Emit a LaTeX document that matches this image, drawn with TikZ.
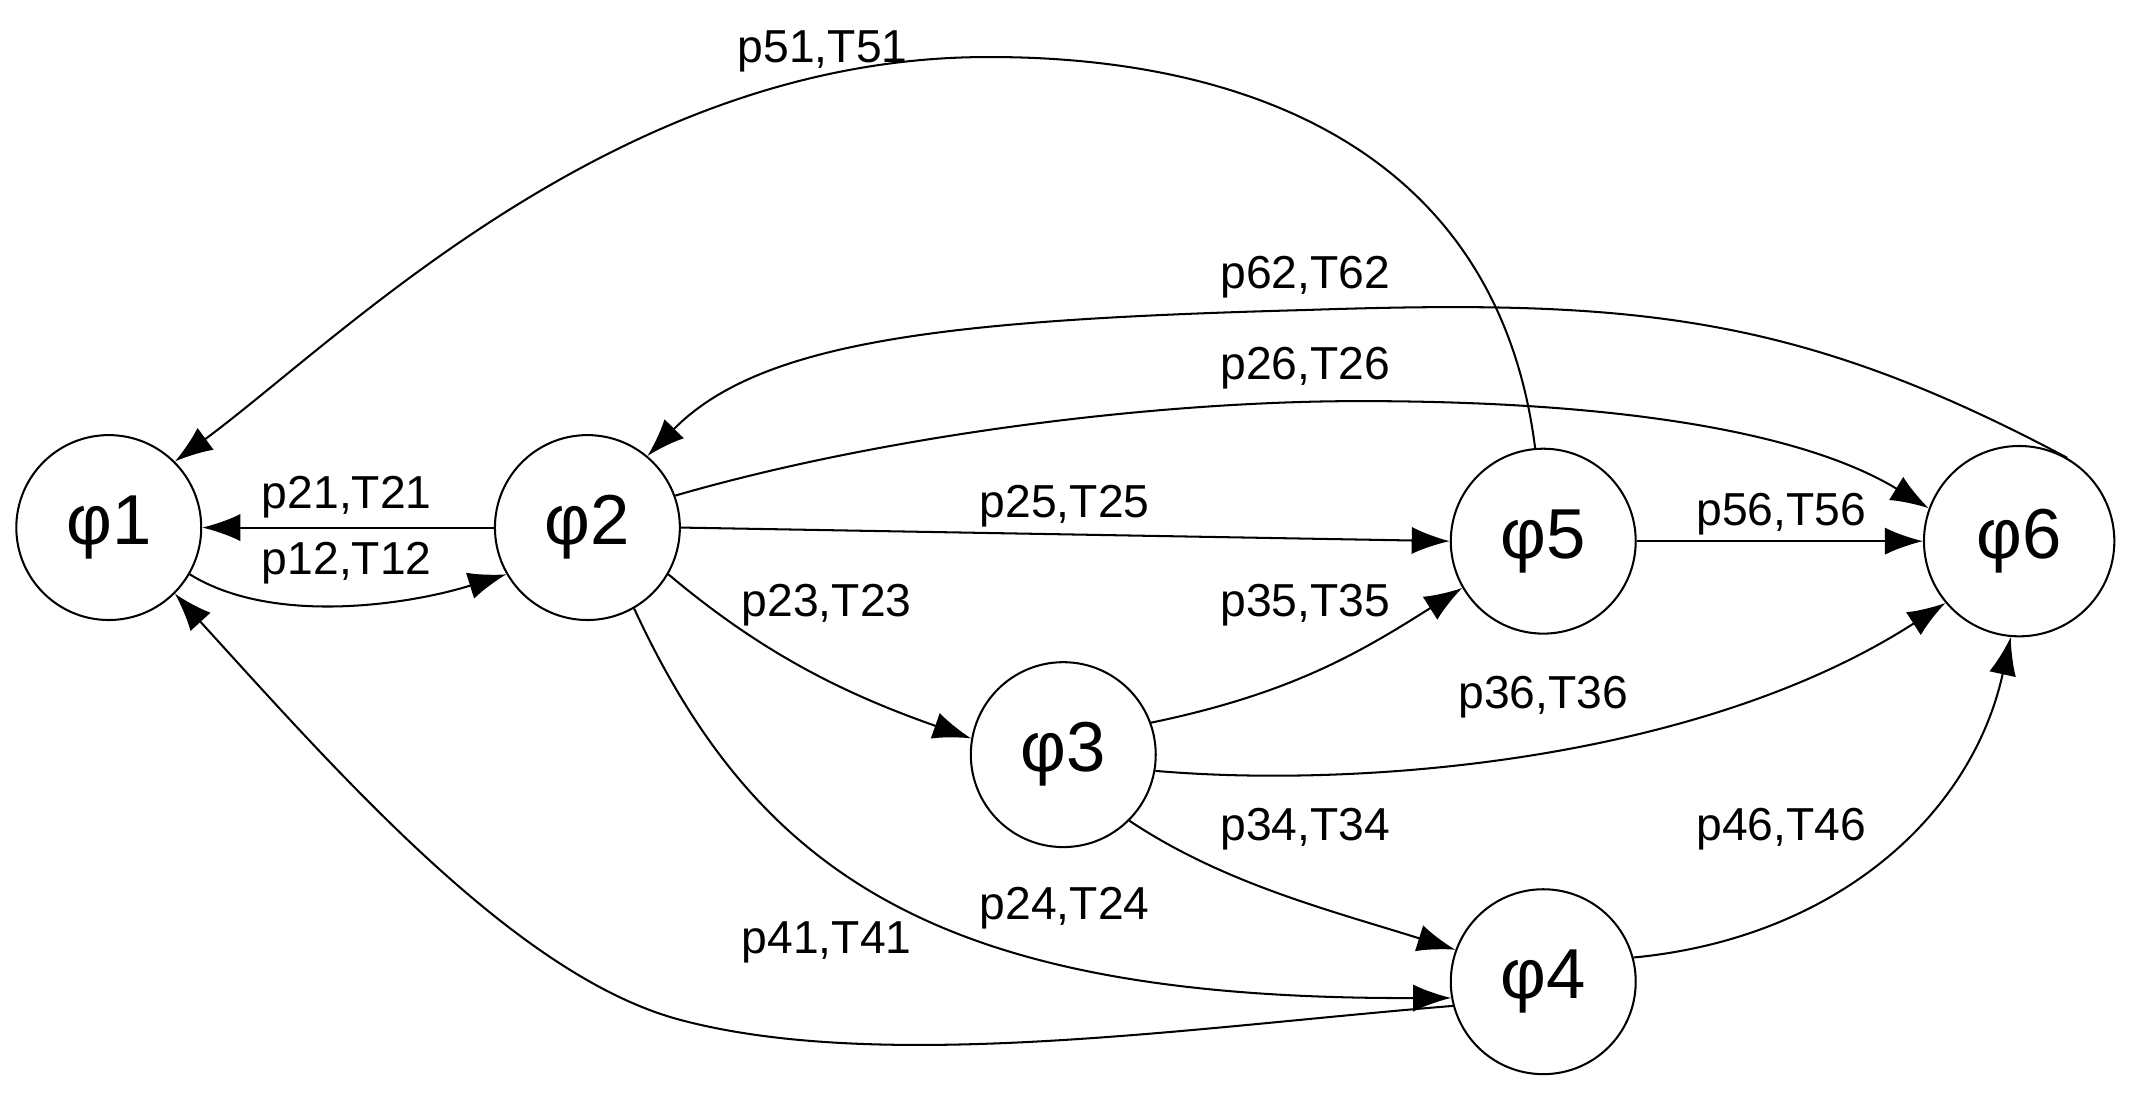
\documentclass[tikz,border=0pt]{standalone}
\usepackage{fontspec}
\setmainfont{Liberation Sans}
\usetikzlibrary{arrows.meta}
\begin{document}
\begin{tikzpicture}[x=1pt,y=-1pt,
  st/.style={circle,draw,line width=1.5pt,minimum size=136pt,inner sep=0pt,font=\fontsize{52}{58}\selectfont},
  ed/.style={line width=1.5pt,-{Latex[length=28pt,width=20pt]}},
  lb/.style={font=\fontsize{34}{38}\selectfont}]
\useasboundingbox (0,0) rectangle (1568,805);
\node[st] (p1) at (80,388) {φ1};
\node[st] (p2) at (432,388) {φ2};
\node[st] (p5) at (1135,398) {φ5};
\node[st,minimum size=140pt] (p6) at (1485,398) {φ6};
\node[st] (p3) at (782,555) {φ3};
\node[st] (p4) at (1135,722) {φ4};
\draw[ed] (p2.west) -- (p1.east);
\node[lb] (l21) at (255,366) {p21,T21};
\draw[ed] (p1.-30) .. controls (200,460) and (300,445) .. (p2.210);
\node[lb] (l12) at (255,414) {p12,T12};
\draw[ed] (p5.95) .. controls (1100,100) and (900,40) .. (720,42) .. controls (450,45) and (250,250) .. (p1.45);
\node[lb] (l51) at (605,38) {p51,T51};
\draw[ed] (p6.60) .. controls (1320,230) and (1200,220) .. (960,228) .. controls (700,235) and (560,250) .. (p2.50);
\node[lb] (l62) at (960,204) {p62,T62};
\draw[ed] (p2.20) .. controls (650,320) and (850,295) .. (1000,295) .. controls (1200,295) and (1330,320) .. (p6.160);
\node[lb] (l26) at (960,271) {p26,T26};
\draw[ed] (p2.east) -- (p5.west);
\node[lb] (l25) at (783,372) {p25,T25};
\draw[ed] (p5.east) -- (p6.west);
\node[lb] (l56) at (1310,378) {p56,T56};
\draw[ed] (p2.-30) .. controls (560,480) and (620,510) .. (p3.170);
\node[lb] (l23) at (608,445) {p23,T23};
\draw[ed] (p3.20) .. controls (950,510) and (1000,480) .. (p5.210);
\node[lb] (l35) at (960,445) {p35,T35};
\draw[ed] (p3.-10) .. controls (1000,580) and (1250,560) .. (p6.220);
\node[lb] (l36) at (1135,513) {p36,T36};
\draw[ed] (p3.-45) .. controls (900,650) and (980,670) .. (p4.160);
\node[lb] (l34) at (960,610) {p34,T34};
\draw[ed] (p2.-60) .. controls (560,650) and (700,735) .. (p4.190);
\node[lb] (l24) at (783,668) {p24,T24};
\draw[ed] (p4.195) .. controls (880,755) and (650,790) .. (500,750) .. controls (380,718) and (250,570) .. (p1.-45);
\node[lb] (l41) at (608,693) {p41,T41};
\draw[ed] (p4.15) .. controls (1350,690) and (1450,600) .. (p6.-95);
\node[lb] (l46) at (1310,610) {p46,T46};
\end{tikzpicture}
\end{document}
